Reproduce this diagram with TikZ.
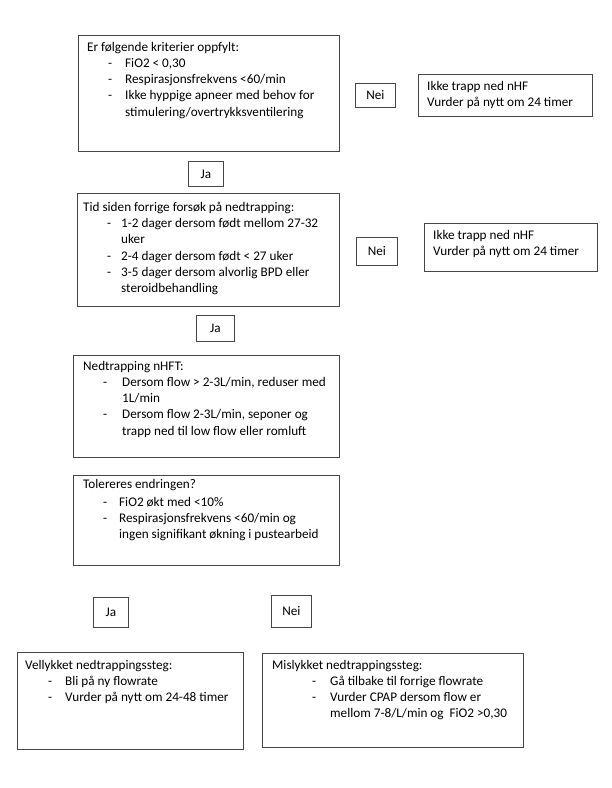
\documentclass[tikz,border=0pt]{standalone}
\usepackage{fontspec}
\setmainfont{Carlito}
\usepackage{tikz}
\usetikzlibrary{positioning}

\definecolor{frame}{RGB}{70,70,70}

% dash at the start of a list line
\newcommand{\dashline}[2]{\hspace*{#1}\makebox[#2][l]{-}}

\begin{document}
\begin{tikzpicture}[
  x=1pt, y=-1pt,
  every node/.style={font=\fontsize{13.2}{16.2}\selectfont},
  stepbox/.style={draw=frame, line width=0.8pt, anchor=north west, inner sep=0pt},
  tagbox/.style={draw=frame, line width=0.8pt, anchor=north west, inner sep=0pt, align=center},
  boxtext/.style={anchor=north west, inner sep=0pt, align=left}
]

\useasboundingbox (0,0) rectangle (612,788);

% main boxes
\node[stepbox, minimum width=261pt, minimum height=116pt] (b1) at (78,35) {};
\node[stepbox, minimum width=262pt, minimum height=113pt] (b2) at (77,193) {};
\node[stepbox, minimum width=266pt, minimum height=102pt] (b3) at (73,355) {};
\node[stepbox, minimum width=266pt, minimum height=90pt] (b4) at (73,475) {};
\node[stepbox, minimum width=226pt, minimum height=97pt] (b5) at (17,652) {};
\node[stepbox, minimum width=261pt, minimum height=94pt] (b6) at (262,653) {};

% side boxes
\node[stepbox, minimum width=174pt, minimum height=42pt] (r1) at (418,74) {};
\node[stepbox, minimum width=173pt, minimum height=48pt] (r2) at (424,223) {};

% Ja / Nei
\node[tagbox, minimum width=40pt, minimum height=24pt] (n1) at (355,83) {Nei};
\node[tagbox, minimum width=35pt, minimum height=25pt] (j1) at (188,161) {Ja};
\node[tagbox, minimum width=41pt, minimum height=28pt] (n2) at (356,237) {Nei};
\node[tagbox, minimum width=38pt, minimum height=26pt] (j2) at (196,315) {Ja};
\node[tagbox, minimum width=35pt, minimum height=30pt] (j3) at (93,597) {Ja};
\node[tagbox, minimum width=40pt, minimum height=32pt] (n3) at (271,595) {Nei};

% texts
\node[boxtext] (t1) at (87,42) {Er følgende kriterier oppfylt:\\
  \dashline{21pt}{17pt}FiO2 < 0,30\\
  \dashline{21pt}{17pt}Respirasjonsfrekvens <60/min\\
  \dashline{21pt}{17pt}Ikke hyppige apneer med behov for\\
  \hspace*{38pt}stimulering/overtrykksventilering};

\node[boxtext] (tr1) at (427,81) {Ikke trapp ned nHF\\Vurder på nytt om 24 timer};

\node[boxtext] (t2) at (83,202) {Tid siden forrige forsøk på nedtrapping:\\
  \dashline{24pt}{14pt}1-2 dager dersom født mellom 27-32\\
  \hspace*{38pt}uker\\
  \dashline{24pt}{14pt}2-4 dager dersom født < 27 uker\\
  \dashline{24pt}{14pt}3-5 dager dersom alvorlig BPD eller\\
  \hspace*{38pt}steroidbehandling};

\node[boxtext] (tr2) at (433,230) {Ikke trapp ned nHF\\Vurder på nytt om 24 timer};

\node[boxtext] (t3) at (83,361) {Nedtrapping nHFT:\\
  \dashline{20pt}{19pt}Dersom flow > 2-3L/min, reduser med\\
  \hspace*{39pt}1L/min\\
  \dashline{20pt}{19pt}Dersom flow 2-3L/min, seponer og\\
  \hspace*{39pt}trapp ned til low flow eller romluft};

\node[boxtext] (t4) at (83,479) {Tolereres endringen?\\[2pt]
  \dashline{20pt}{16pt}FiO2 økt med <10\%\\
  \dashline{20pt}{16pt}Respirasjonsfrekvens <60/min og\\
  \hspace*{36pt}ingen signifikant økning i pustearbeid};

\node[boxtext] (t5) at (25,660) {Vellykket nedtrappingssteg:\\
  \dashline{23pt}{17pt}Bli på ny flowrate\\
  \dashline{23pt}{17pt}Vurder på nytt om 24-48 timer};

\node[boxtext] (t6) at (272,660) {Mislykket nedtrappingssteg:\\
  \dashline{40pt}{18pt}Gå tilbake til forrige flowrate\\
  \dashline{40pt}{18pt}Vurder CPAP dersom flow er\\
  \hspace*{58pt}mellom 7-8/L/min og~ FiO2 >0,30};

\end{tikzpicture}
\end{document}
